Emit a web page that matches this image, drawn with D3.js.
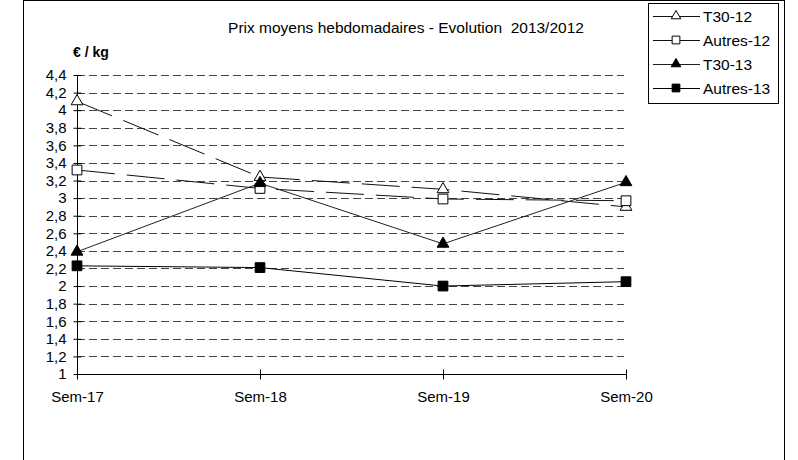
<!DOCTYPE html>
<html>
<head>
<meta charset="utf-8">
<script src="https://cdn.jsdelivr.net/npm/d3@7"></script>
<style>
  body { margin: 0; background: #fff; }
  text { font-family: "Liberation Sans", Arial, sans-serif; }
</style>
</head>
<body>
<div id="chart"></div>
<script>
const weeks = ["Sem-17", "Sem-18", "Sem-19", "Sem-20"];
const t30_12 = [4.1, 3.24, 3.1, 2.9];
const autres_12 = [3.32, 3.11, 2.99, 2.97];
const t30_13 = [2.39, 3.17, 2.48, 3.18];
const autres_13 = [2.23, 2.21, 2.0, 2.05];
const yTicks = [1, 1.2, 1.4, 1.6, 1.8, 2, 2.2, 2.4, 2.6, 2.8, 3, 3.2, 3.4, 3.6, 3.8, 4, 4.2, 4.4];

let width = 798,
  height = 460;

let svg = d3.select("#chart")
  .append("svg")
  .attr("width", width)
  .attr("height", height);

// outer frame
svg.append("rect")
  .attr("x", 23.5).attr("y", 0.5)
  .attr("width", 761).attr("height", 470)
  .attr("fill", "none").attr("stroke", "#000");

let x = d3.scalePoint().domain(weeks).range([77, 626]);
let y = d3.scaleLinear().domain([1, 4.4]).range([374, 75]);

// grid
svg.append("g")
  .selectAll("line")
  .data(yTicks.slice(1))
  .join("line")
  .attr("x1", 77).attr("x2", 624)
  .attr("y1", d => Math.round(y(d)) + 0.5)
  .attr("y2", d => Math.round(y(d)) + 0.5)
  .attr("stroke", "#444")
  .attr("stroke-dasharray", "8,4");

let fmt = d => String(d).replace(".", ",");

let yAxis = svg.append("g")
  .attr("transform", "translate(77.5,0)")
  .call(d3.axisLeft(y).tickValues(yTicks).tickFormat(fmt).tickSize(4).tickPadding(7));
yAxis.select(".domain").attr("d", `M0,${y(4.4)}V${y(1)}`);
yAxis.selectAll(".tick line").attr("x1", 4);
yAxis.selectAll("text").style("font-size", "15px").attr("fill", "#000");

let xAxis = svg.append("g")
  .attr("transform", "translate(0,374.5)")
  .call(d3.axisBottom(x).tickSize(5).tickPadding(12));
xAxis.select(".domain").attr("d", `M${x("Sem-17")},0H${x("Sem-20")}`);
xAxis.selectAll(".tick line").attr("y1", -5);
xAxis.selectAll("text").style("font-size", "15px").attr("fill", "#000");

svg.append("text")
  .attr("x", 406).attr("y", 33)
  .attr("text-anchor", "middle")
  .style("font-size", "15.5px")
  .text("Prix moyens hebdomadaires - Evolution  2013/2012")
  .style("white-space", "pre");

svg.append("text")
  .attr("x", 73).attr("y", 57)
  .style("font-size", "14px")
  .attr("font-weight", "bold")
  .text("€ / kg");

let series = [
  { name: "T30-12", values: t30_12, dash: "38,12", shape: d3.symbolTriangle, fill: "#fff", color: "#111" },
  { name: "Autres-12", values: autres_12, dash: "38,12", shape: d3.symbolSquare, fill: "#fff", color: "#111" },
  { name: "T30-13", values: t30_13, dash: null, shape: d3.symbolTriangle, fill: "#000", color: "#222" },
  { name: "Autres-13", values: autres_13, dash: null, shape: d3.symbolSquare, fill: "#000", color: "#000" }
];

let line = d3.line()
  .x((d, i) => x(weeks[i]))
  .y(d => y(d));

series.forEach(s => {
  svg.append("path")
    .attr("d", line(s.values))
    .attr("fill", "none")
    .attr("stroke", s.color)
    .attr("stroke-width", 1)
    .attr("stroke-dasharray", s.dash);
});

series.forEach(s => {
  let size = s.shape === d3.symbolSquare ? 95 : 60;
  svg.append("g")
    .selectAll("path")
    .data(s.values)
    .join("path")
    .attr("d", d3.symbol().type(s.shape).size(size))
    .attr("transform", (d, i) => `translate(${x(weeks[i])},${y(d)})`)
    .attr("fill", s.fill)
    .attr("stroke", "#000")
    .attr("stroke-width", 1);
});

// legend
let legend = svg.append("g");
legend.append("rect")
  .attr("x", 648.5).attr("y", 3.5)
  .attr("width", 130).attr("height", 100)
  .attr("fill", "#fff").attr("stroke", "#000");

series.forEach((s, i) => {
  let ly = 16 + i * 24;
  legend.append("line")
    .attr("x1", 653).attr("x2", 700)
    .attr("y1", ly + 0.5).attr("y2", ly + 0.5)
    .attr("stroke", s.color);
  legend.append("path")
    .attr("d", d3.symbol().type(s.shape).size(s.shape === d3.symbolSquare ? 60 : 40))
    .attr("transform", `translate(676,${ly})`)
    .attr("fill", s.fill)
    .attr("stroke", "#000");
  legend.append("text")
    .attr("x", 703).attr("y", ly + 5.5)
    .style("font-size", "15.5px")
    .text(s.name);
});
</script>
</body>
</html>
